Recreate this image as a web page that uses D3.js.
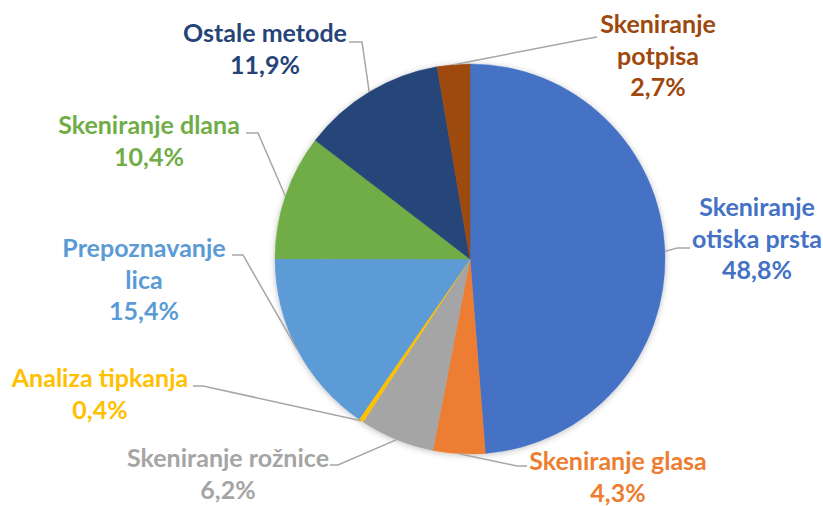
<!DOCTYPE html>
<html>
<head>
<meta charset="utf-8">
<script src="https://cdn.jsdelivr.net/npm/d3@7"></script>
<style>
  body { margin: 0; background: #fff; }
  .lbl { font-family: Lato, "Open Sans", sans-serif; font-weight: 700; font-size: 25px; }
  .leader { fill: none; stroke: #a6a6a6; stroke-width: 1.5; }
</style>
</head>
<body>
<script>
// data
var categories = ["Skeniranje otiska prsta", "Skeniranje glasa", "Skeniranje rožnice", "Analiza tipkanja",
                  "Prepoznavanje lica", "Skeniranje dlana", "Ostale metode", "Skeniranje potpisa"];
var shares = [48.8, 4.3, 6.2, 0.4, 15.4, 10.4, 11.9, 2.7];
var colors = ["#4472c4", "#ed7d31", "#a5a5a5", "#ffc000", "#5b9bd5", "#70ad47", "#264478", "#9e480e"];

// label placement (text lines, centre x, first baseline, leader elbow and end)
var labelLayout = [
  {lines: ["Skeniranje", "otiska prsta"], x: 757, y: 216, elbow: [677, 248], end: [690, 248]},
  {lines: ["Skeniranje glasa"],           x: 618, y: 470, elbow: [517, 466], end: [527, 466]},
  {lines: ["Skeniranje rožnice"],         x: 228, y: 467, elbow: [338, 465], end: [330, 465]},
  {lines: ["Analiza tipkanja"],           x: 100, y: 387, elbow: [203, 386], end: [193, 386]},
  {lines: ["Prepoznavanje", "lica"],      x: 144, y: 257, elbow: [243, 255], end: [232, 255]},
  {lines: ["Skeniranje dlana"],           x: 149, y: 134, elbow: [258, 133], end: [246, 133]},
  {lines: ["Ostale metode"],              x: 265, y: 42,  elbow: [362, 42],  end: [349, 42]},
  {lines: ["Skeniranje", "potpisa"],      x: 658, y: 33,  elbow: [583, 39.5], end: [597, 37]}
];

var width = 823, height = 506
  , cx = 470, cy = 259, radius = 195
  , lineH = 31.5;

var fmt = d3.formatLocale({decimal: ",", thousands: ".", grouping: [3], currency: ["", ""]}).format(".1f");

var svg = d3.select("body").append("svg")
    .attr("width", width)
    .attr("height", height);

// soft shadow under the pie
var filter = svg.append("defs").append("filter")
    .attr("id", "shadow")
    .attr("x", "-20%").attr("y", "-20%")
    .attr("width", "140%").attr("height", "140%");
filter.append("feDropShadow")
    .attr("dx", 0).attr("dy", 1)
    .attr("stdDeviation", 3)
    .attr("flood-color", "#000")
    .attr("flood-opacity", 0.25);

var pieData = d3.pie().sort(null).value(function(d) { return d; })(shares);

var arc = d3.arc().innerRadius(0).outerRadius(radius);
var edgeArc = d3.arc().innerRadius(radius).outerRadius(radius);

var g = svg.append("g")
    .attr("transform", "translate(" + cx + "," + cy + ")");

g.append("g")
    .attr("filter", "url(#shadow)")
  .selectAll("path")
    .data(pieData).enter()
    .append("path")
      .attr("d", arc)
      .attr("fill", function(d, i) { return colors[i]; })
      .attr("stroke", function(d, i) { return colors[i]; })
      .attr("stroke-width", 0.5);

// leader lines
svg.selectAll(".leader")
    .data(pieData).enter()
    .append("polyline")
      .attr("class", "leader")
      .attr("points", function(d, i) {
        var c = edgeArc.centroid(d);
        var L = labelLayout[i];
        return [[cx + c[0], cy + c[1]], L.elbow, L.end].map(function(p) { return p.join(","); }).join(" ");
      });

// labels
var labels = svg.selectAll(".lbl")
    .data(pieData).enter()
    .append("text")
      .attr("class", "lbl")
      .attr("fill", function(d, i) { return colors[i]; })
      .attr("text-anchor", "middle");

labels.each(function(d, i) {
  var L = labelLayout[i];
  var t = d3.select(this);
  var rows = L.lines.concat([fmt(shares[i]) + "%"]);
  rows.forEach(function(r, k) {
    t.append("tspan")
      .attr("x", L.x)
      .attr("y", L.y + k * lineH)
      .text(r);
  });
});
</script>
</body>
</html>
